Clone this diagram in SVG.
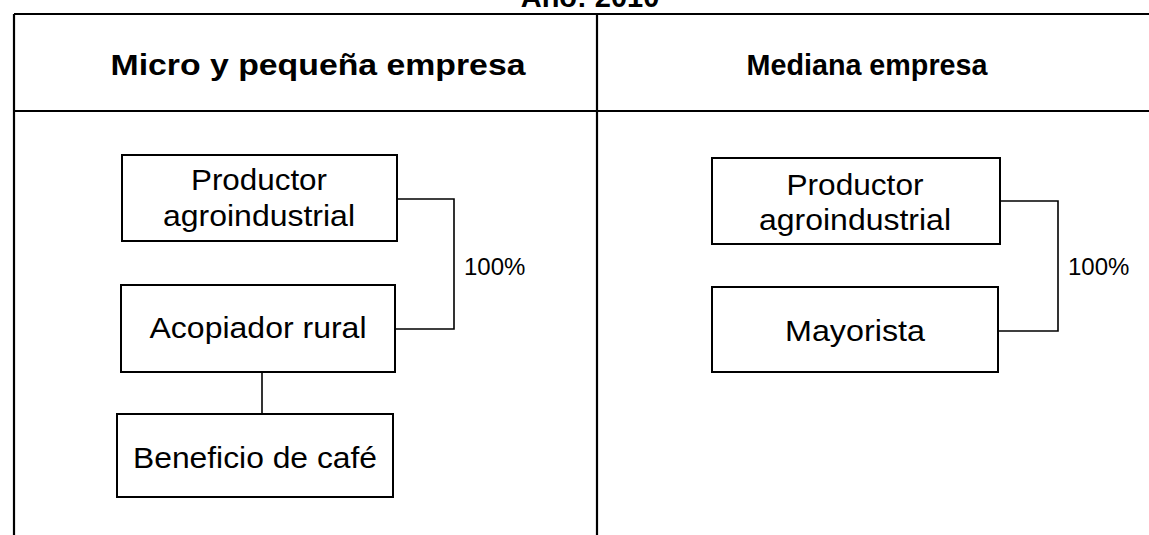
<svg xmlns="http://www.w3.org/2000/svg" width="1149" height="535" viewBox="0 0 1149 535">
<style>
.t{font-family:"Liberation Sans",Arial,sans-serif;fill:#000;text-anchor:middle}
.h{font-weight:bold;font-size:29px}
.b{font-size:29px}
.p{font-size:24px;text-anchor:start}
.box{fill:#fff;stroke:#000;stroke-width:2}
.grid{stroke:#000;stroke-width:2.2;fill:none}
.c{stroke:#000;stroke-width:1.6;fill:none}
</style>
<rect width="1149" height="535" fill="#fff"/>
<g id="table">
<text class="t h" x="590" y="7">Año: 2010</text>
<path class="grid" d="M14,14 H1149 M14,111 H1149 M14,14 V535 M597,14 V535"/>
<text class="t h" x="318" y="75" textLength="415" lengthAdjust="spacingAndGlyphs">Micro y pequeña empresa</text>
<text class="t h" x="867" y="75" textLength="241" lengthAdjust="spacingAndGlyphs">Mediana empresa</text>
</g>
<g id="connectors">
<path class="c" d="M397,199 H454 V329 H395"/>
<path class="c" d="M262,372 V414"/>
<path class="c" d="M1000,201 H1058 V331 H998"/>
<text class="t p" x="464" y="275">100%</text>
<text class="t p" x="1068" y="275">100%</text>
</g>
<g id="n1">
<rect class="box" x="122" y="155" width="275" height="86"/>
<text class="t b" x="259" y="190" textLength="136" lengthAdjust="spacingAndGlyphs">Productor</text>
<text class="t b" x="259" y="226" textLength="192" lengthAdjust="spacingAndGlyphs">agroindustrial</text>
</g>
<g id="n2">
<rect class="box" x="121" y="285" width="274" height="87"/>
<text class="t b" x="258" y="338" textLength="217" lengthAdjust="spacingAndGlyphs">Acopiador rural</text>
</g>
<g id="n3">
<rect class="box" x="117" y="414" width="276" height="83"/>
<text class="t b" x="255" y="468" textLength="244" lengthAdjust="spacingAndGlyphs">Beneficio de café</text>
</g>
<g id="n4">
<rect class="box" x="712" y="158" width="288" height="86"/>
<text class="t b" x="855" y="195" textLength="137" lengthAdjust="spacingAndGlyphs">Productor</text>
<text class="t b" x="855" y="230" textLength="192" lengthAdjust="spacingAndGlyphs">agroindustrial</text>
</g>
<g id="n5">
<rect class="box" x="712" y="287" width="286" height="85"/>
<text class="t b" x="855" y="341" textLength="140" lengthAdjust="spacingAndGlyphs">Mayorista</text>
</g>
</svg>
